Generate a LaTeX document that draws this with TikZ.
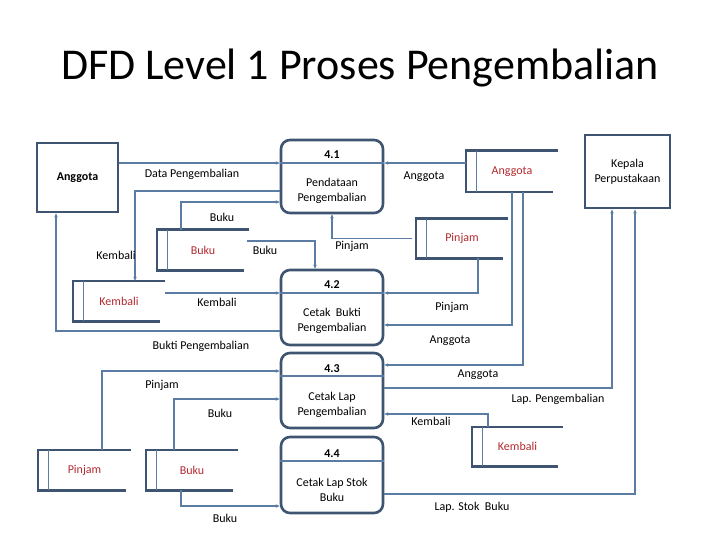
\documentclass[tikz,border=0pt]{standalone}
\usepackage{fontspec}
\setmainfont{Carlito}
\usetikzlibrary{arrows.meta}
\definecolor{boxblue}{HTML}{3E5471}
\definecolor{flowblue}{HTML}{5B7DA3}
\definecolor{storered}{HTML}{B3282E}
\begin{document}
\begin{tikzpicture}[x=1pt,y=-1pt]
  \tikzset{ent/.style={draw=boxblue,line width=2.8pt,rectangle,align=center,font=\fontsize{12}{15}\selectfont},
    proc/.style={draw=boxblue,line width=2.6pt,rectangle,rounded corners=9pt,minimum width=102pt},
    ptxt/.style={align=center,font=\fontsize{12}{15.5}\selectfont},
    pnum/.style={font=\fontsize{12}{14}\selectfont\bfseries},
    st/.style={rectangle,minimum width=92pt,minimum height=40pt,text=storered,font=\fontsize{12}{14}\selectfont},
    stline/.style={draw=boxblue,line width=2.6pt},
    flow/.style={draw=flowblue,line width=1.3pt},
    arr/.style={flow,-{Stealth[length=4pt,width=3.5pt]}},
    lbl/.style={font=\fontsize{12}{14}\selectfont}}
  \useasboundingbox (0,0) rectangle (720,540);
  \node[font=\fontsize{44}{50}\selectfont] (title) at (360,68) {DFD Level 1 Proses Pengembalian};
  % entities
  \node[ent,minimum width=81pt,minimum height=69pt,font=\fontsize{12}{15}\selectfont\bfseries] (eAng) at (77.5,177.5) {Anggota};
  \node[ent,minimum width=85pt,minimum height=73pt] (eKep) at (627.5,171.5) {Kepala\\Perpustakaan};
  % processes
  \node[proc,minimum height=73pt] (p41) at (332,176.5) {};
  \node[proc,minimum height=75pt] (p42) at (332,307.5) {};
  \node[proc,minimum height=75pt] (p43) at (332,390.5) {};
  \node[proc,minimum height=76pt] (p44) at (332,475) {};
  \node[pnum] (n41) at (332,155) {4.1};
  \node[pnum] (n42) at (332,285) {4.2};
  \node[pnum] (n43) at (332,369) {4.3};
  \node[pnum] (n44) at (332,454) {4.4};
  \node[ptxt] (t41) at (332,191) {Pendataan\\Pengembalian};
  \node[ptxt] (t42) at (332,321) {Cetak\ \ Bukti\\Pengembalian};
  \node[ptxt] (t43) at (332,405) {Cetak Lap\\Pengembalian};
  \node[ptxt] (t44) at (332,490) {Cetak Lap Stok\\Buku};
  \draw[flow] (p41.west |- 0,163) -- (p41.east |- 0,163);
  \draw[flow] (p42.west |- 0,293) -- (p42.east |- 0,293);
  \draw[flow] (p43.west |- 0,376) -- (p43.east |- 0,376);
  \draw[flow] (p44.west |- 0,461) -- (p44.east |- 0,461);
  % data stores
  \node[st] (sKem1) at (119,301) {Kembali};
  \node[st] (sBuk1) at (203,250) {Buku};
  \node[st,minimum height=41pt] (sAng) at (512,171.5) {Anggota};
  \node[st,minimum height=39pt] (sPin1) at (462,238.5) {Pinjam};
  \node[st,minimum width=93pt] (sPin2) at (84.5,470) {Pinjam};
  \node[st] (sBuk2) at (192,470) {Buku};
  \node[st,minimum width=91pt,minimum height=39pt] (sKem2) at (517.5,446.5) {Kembali};
  \foreach \s in {sKem1,sBuk1,sAng,sPin1,sPin2,sBuk2,sKem2}{
    \draw[stline] (\s.north east) -- (\s.north west) -- (\s.south west) -- ([xshift=-5pt]\s.south east);
    \draw[flow] ([xshift=11pt]\s.north west) -- ([xshift=11pt]\s.south west);
  }
  % flows
  \draw[arr] (eAng.east |- 0,163) -- (p41.west |- 0,163);
  \draw[arr] (p41.west |- 0,191) -| ([xshift=16pt]sKem1.north);
  \draw[arr] ([xshift=-22pt]sBuk1.north) |- (p41.west |- 0,202);
  \draw[arr] (247,241) -| ([xshift=-17pt]p42.north);
  \draw[arr] ([xshift=-4pt]sPin1.west) -| (p41.south);
  \draw[arr] (sKem1.east |- 0,293) -- (p42.west |- 0,293);
  \draw[arr] (p42.west |- 0,331) -| ([xshift=-21.5pt]eAng.south);
  \draw[arr] (sAng.west |- 0,163) -- (p41.east |- 0,163);
  \draw[arr] ([xshift=16pt]sPin1.south) |- (p42.east |- 0,293);
  \draw[arr] (sAng.south) |- (p42.east |- 0,325);
  \draw[arr] ([xshift=11pt]sAng.south) |- (p43.east |- 0,365);
  \draw[arr] (p43.east |- 0,388) -| ([xshift=-15.5pt]eKep.south);
  \draw[arr] ([xshift=-29.5pt]sKem2.north) |- (p43.east |- 0,414);
  \draw[arr] (p44.east |- 0,494) -| ([xshift=7.5pt]eKep.south);
  \draw[arr] ([xshift=17.5pt]sPin2.north) |- (p43.west |- 0,371);
  \draw[arr] ([xshift=-18pt]sBuk2.north) |- (p43.west |- 0,399);
  \draw[arr] ([xshift=-11pt]sBuk2.south) |- (p44.west |- 0,506);
  % flow labels
  \node[lbl] (lData) at (192,174) {Data Pengembalian};
  \node[lbl] (lKem1) at (116,255) {Kembali};
  \node[lbl] (lBuk1) at (222,217) {Buku};
  \node[lbl] (lBuk2) at (265,250) {Buku};
  \node[lbl] (lPin1) at (352,246) {Pinjam};
  \node[lbl] (lKem2) at (217,302) {Kembali};
  \node[lbl] (lBukti) at (201,346) {Bukti Pengembalian};
  \node[lbl] (lAng1) at (424,177) {Anggota};
  \node[lbl] (lPin2) at (452,307) {Pinjam};
  \node[lbl] (lAng2) at (450,341) {Anggota};
  \node[lbl] (lAng3) at (478,375) {Anggota};
  \node[lbl] (lLapP) at (558,399) {Lap. Pengembalian};
  \node[lbl] (lKem3) at (431,421) {Kembali};
  \node[lbl] (lLapS) at (472,507) {Lap. Stok\ \ Buku};
  \node[lbl] (lPin3) at (162,385) {Pinjam};
  \node[lbl] (lBuk3) at (220,413) {Buku};
  \node[lbl] (lBuk4) at (225,518) {Buku};
\end{tikzpicture}
\end{document}
